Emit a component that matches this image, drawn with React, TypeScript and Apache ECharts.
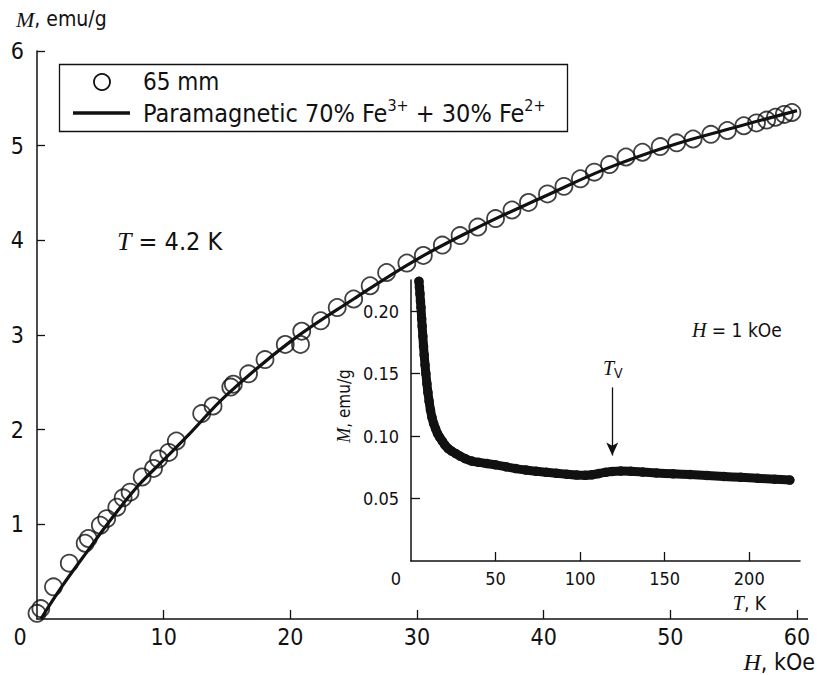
import React, { useEffect, useRef } from "react";
import * as echarts from "echarts";

// Main panel: magnetization M (emu/g) vs field H (kOe) at T = 4.2 K
const fieldH = [0.0, 0.3, 1.3, 2.55, 3.8, 4.05, 5.0, 5.5, 6.3, 6.8, 7.35, 8.3, 9.2, 9.6, 10.4, 11.0, 13.0, 13.9, 15.3, 15.5, 16.7, 18.0, 19.6, 20.8, 20.9, 22.4, 23.7, 25.0, 26.3, 27.6, 29.2, 30.5, 32.0, 33.4, 34.8, 36.2, 37.5, 38.8, 40.3, 41.6, 42.9, 44.0, 45.2, 46.5, 47.8, 49.2, 50.5, 51.8, 53.2, 54.5, 55.8, 56.8, 57.6, 58.3, 59.0, 59.6, 60.2];
const momentM = [0.06, 0.11, 0.34, 0.59, 0.80, 0.85, 0.99, 1.06, 1.18, 1.28, 1.34, 1.50, 1.59, 1.69, 1.76, 1.88, 2.17, 2.25, 2.45, 2.48, 2.59, 2.74, 2.90, 2.90, 3.04, 3.15, 3.29, 3.38, 3.52, 3.66, 3.76, 3.84, 3.95, 4.05, 4.14, 4.23, 4.32, 4.40, 4.49, 4.57, 4.65, 4.72, 4.80, 4.88, 4.93, 4.99, 5.03, 5.07, 5.12, 5.16, 5.21, 5.24, 5.27, 5.30, 5.33, 5.35, 5.38];

// Paramagnetic fit 70% Fe3+ + 30% Fe2+
const fitH = [0.3, 2, 4, 6, 8, 10, 12, 15, 20, 25, 30, 35, 40, 45, 50, 55, 60];
const fitM = [0.0, 0.35, 0.72, 1.08, 1.41, 1.68, 1.95, 2.37, 2.93, 3.38, 3.80, 4.15, 4.46, 4.76, 5.00, 5.19, 5.37];

// Inset: M (emu/g) vs T (K) at H = 1 kOe
const tempT = [4.7, 5.0, 5.3, 5.6, 5.9, 6.3, 6.6, 7.0, 7.4, 7.8, 8.3, 8.8, 9.4, 10.0, 10.7, 11.5, 12.4, 13.4, 14.5, 15.7, 17, 18.5, 20, 22, 24, 26.5, 29, 32, 36, 40, 45, 50, 56, 62, 68, 74, 80, 86, 92, 98, 103, 107, 111, 115, 119, 124, 130, 137, 145, 155, 165, 175, 185, 195, 205, 215, 224];
const tempM = [0.224, 0.219, 0.214, 0.208, 0.203, 0.194, 0.188, 0.180, 0.172, 0.165, 0.157, 0.150, 0.142, 0.135, 0.128, 0.121, 0.115, 0.110, 0.106, 0.102, 0.099, 0.096, 0.093, 0.090, 0.088, 0.086, 0.084, 0.082, 0.080, 0.079, 0.078, 0.077, 0.0755, 0.074, 0.0728, 0.0718, 0.071, 0.0702, 0.0695, 0.0688, 0.0686, 0.069, 0.070, 0.071, 0.0717, 0.072, 0.0718, 0.0712, 0.0705, 0.0698, 0.0692, 0.0685, 0.0677, 0.067, 0.0662, 0.0655, 0.0648];

const mainXTicks = [10, 20, 30, 40, 50, 60];
const mainYTicks = [1, 2, 3, 4, 5, 6];
const insetXTicks = [50, 100, 150, 200];
const insetYTicks = [0.05, 0.1, 0.15, 0.2];
const verweyT = 119;

const SANS = "'Liberation Sans Narrow', 'DejaVu Sans Condensed', 'Liberation Sans', sans-serif";
const SERIF = "'Liberation Serif', 'DejaVu Serif', serif";
const INK = "#111";

export default function App() {
  const ref = useRef<HTMLDivElement>(null);
  useEffect(() => {
    if (!ref.current) return;
    const chart = echarts.init(ref.current, undefined, { renderer: "svg" });
    const axisCommon = {
      axisLine: { show: true, lineStyle: { color: INK, width: 1.5 } },
      splitLine: { show: false },
    };
    const txt = (x: number, y: number, text: string, size: number, align = "left", extra: any = {}) => ({
      type: "text",
      x,
      y,
      ...extra,
      style: {
        text,
        fill: INK,
        fontSize: size,
        fontFamily: SANS,
        textAlign: align,
        align,
        textVerticalAlign: "middle",
        verticalAlign: "middle",
        rich: {
          i: { fontFamily: SERIF, fontStyle: "italic", fontSize: size + 1, fill: INK },
          s: { fontFamily: SANS, fontSize: size, fill: INK },
          sup: { fontFamily: SANS, fontSize: Math.round(size * 0.62), fill: INK, padding: [0, 0, Math.round(size * 0.6), 0] },
          sub: { fontFamily: SANS, fontSize: Math.round(size * 0.72), fill: INK, padding: [Math.round(size * 0.45), 0, 0, 0] },
        },
      },
    });
    const option: any = {
      animation: false,
      backgroundColor: "#fff",
      grid: [
        { left: 37, top: 51, width: 760, height: 568, outerBoundsMode: "none" },
        { left: 411, top: 280, width: 389, height: 281, outerBoundsMode: "none" },
      ],
      xAxis: [
        {
          gridIndex: 0, type: "value", min: 0, max: 60,
          ...axisCommon,
          axisTick: { show: true, inside: true, length: 9, customValues: mainXTicks, lineStyle: { color: INK, width: 1.3 } },
          axisLabel: { color: INK, fontSize: 23, fontFamily: SANS, margin: 6, customValues: mainXTicks },
        },
        {
          gridIndex: 1, type: "value", min: 0, max: 230,
          ...axisCommon,
          axisTick: { show: true, inside: true, length: 9, customValues: insetXTicks, lineStyle: { color: INK, width: 1.3 } },
          axisLabel: { color: INK, fontSize: 18, fontFamily: SANS, margin: 8, customValues: insetXTicks },
        },
      ],
      yAxis: [
        {
          gridIndex: 0, type: "value", min: 0, max: 6,
          ...axisCommon,
          axisTick: { show: true, inside: true, length: 8, customValues: mainYTicks, lineStyle: { color: INK, width: 1.3 } },
          axisLabel: { color: INK, fontSize: 23, fontFamily: SANS, margin: 13, customValues: mainYTicks },
        },
        {
          gridIndex: 1, type: "value", min: 0, max: 0.225,
          ...axisCommon,
          axisTick: { show: true, inside: true, length: 9, customValues: insetYTicks, lineStyle: { color: INK, width: 1.3 } },
          axisLabel: {
            color: INK, fontSize: 18, fontFamily: SANS, margin: 12, customValues: insetYTicks,
            formatter: (v: number) => v.toFixed(2),
          },
        },
      ],
      series: [
        {
          type: "scatter",
          xAxisIndex: 0, yAxisIndex: 0,
          symbol: "circle", symbolSize: 17,
          itemStyle: { color: "rgba(0,0,0,0)", borderColor: INK, borderWidth: 1.8 },
          data: fieldH.map((h, i) => [h, momentM[i]]),
          z: 2,
        },
        {
          type: "line",
          xAxisIndex: 0, yAxisIndex: 0,
          smooth: 0.4, showSymbol: false,
          lineStyle: { color: INK, width: 3.2 },
          data: fitH.map((h, i) => [h, fitM[i]]),
          z: 3,
        },
        {
          type: "line",
          xAxisIndex: 1, yAxisIndex: 1,
          smooth: 0.3,
          symbol: "circle", symbolSize: 9.5, showSymbol: true, showAllSymbol: true,
          itemStyle: { color: INK },
          lineStyle: { color: INK, width: 9, cap: "round", join: "round" },
          data: tempT.map((t, i) => [t, tempM[i]]),
          markLine: {
            silent: true,
            symbol: ["none", "arrow"],
            symbolSize: [9, 13],
            label: { show: false },
            lineStyle: { color: INK, width: 1.3, type: "solid" },
            data: [[{ coord: [verweyT, 0.139] }, { coord: [verweyT, 0.0845] }]],
          },
          z: 3,
        },
      ],
      graphic: [
        txt(16, 19, "{i|M}{s|, emu/g}", 21),
        txt(20, 637, "0", 23, "center"),
        txt(815, 662, "{i|H}{s|, kOe}", 23, "right"),
        {
          type: "line",
          shape: { x1: 797, y1: 619, x2: 808, y2: 619 },
          style: { stroke: INK, lineWidth: 1.5 },
        },
        {
          type: "rect",
          shape: { x: 59.5, y: 64.5, width: 508, height: 67 },
          style: { fill: "none", stroke: INK, lineWidth: 1.3 },
        },
        {
          type: "circle",
          shape: { cx: 102, cy: 82, r: 8 },
          style: { fill: "none", stroke: INK, lineWidth: 1.8 },
        },
        {
          type: "line",
          shape: { x1: 73, y1: 113, x2: 130, y2: 113 },
          style: { stroke: INK, lineWidth: 3.5 },
        },
        txt(143, 82, "65 mm", 24),
        txt(143, 113, "{s|Paramagnetic 70% Fe}{sup|3+}{s| + 30% Fe}{sup|2+}", 25),
        txt(117, 241, "{i|T}{s| = 4.2 K}", 25),
        txt(396, 578, "0", 18, "center"),
        txt(766, 603, "{i|T}{s|, K}", 19, "right"),
        txt(344, 406, "{i|M}{s|, emu/g}", 17, "center", { rotation: Math.PI / 2 }),
        txt(692, 330, "{i|H}{s| = 1 kOe}", 19),
        txt(603, 368, "{i|T}{sub|V}", 19),
      ],
    };
    chart.setOption(option);
    return () => chart.dispose();
  }, []);
  return (
    <div
      ref={ref}
      style={{ position: "absolute", left: 0, top: 0, width: 817, height: 675, background: "#fff" }}
    />
  );
}
